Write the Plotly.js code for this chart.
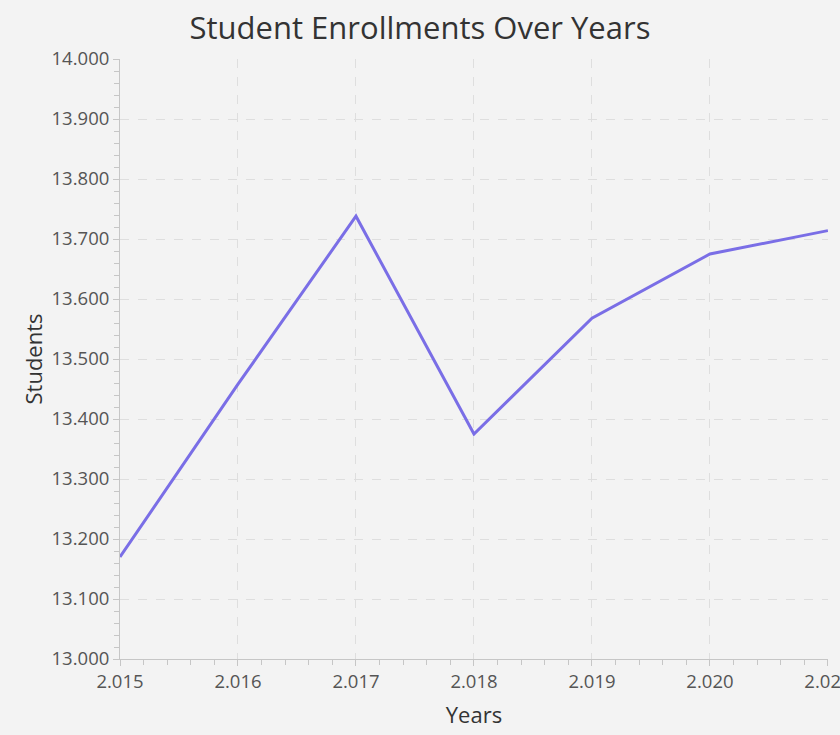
<!DOCTYPE html>
<html>
<head>
<meta charset="utf-8">
<script src="https://cdn.plot.ly/plotly-3.0.1.min.js"></script>
<style>html,body{margin:0;padding:0;background:#f3f3f3;}#chart{width:840px;height:735px;}</style>
</head>
<body>
<div id="chart"></div>
<script>
const years = [2015, 2016, 2017, 2018, 2019, 2020, 2021];
const students = [13170, 13458, 13738, 13375, 13568, 13675, 13714];

const fontFam = '"Open Sans", "Noto Sans", sans-serif';
const trace = {
  x: years,
  y: students,
  type: 'scatter',
  mode: 'lines',
  line: {color: '#7A6EE6', width: 3},
  hoverinfo: 'x+y'
};

const axisCommon = {
  showline: true,
  linecolor: '#C6C6C6',
  linewidth: 1,
  ticks: 'outside',
  ticklen: 6,
  tickcolor: '#C6C6C6',
  showgrid: true,
  gridcolor: '#DEDEDE',
  griddash: 'dash',
  gridwidth: 1,
  zeroline: false,
  ticklabeloverflow: 'allow',
  tickfont: {family: fontFam, size: 18.5, color: '#555555'},
  tickformat: ',d'
};

const layout = {
  width: 840,
  height: 735,
  paper_bgcolor: '#F3F3F3',
  plot_bgcolor: '#F3F3F3',
  separators: ',.',
  margin: {l: 120, r: 12, t: 59, b: 76},
  showlegend: false,
  title: {
    text: 'Student Enrollments Over Years',
    font: {family: fontFam, size: 31, color: '#333333'},
    x: 0.5, xref: 'container', xanchor: 'center',
    y: 0.962, yref: 'container', yanchor: 'middle'
  },
  xaxis: Object.assign({}, axisCommon, {
    range: [2015, 2021.0005],
    dtick: 1,
    tick0: 2015,
    minor: {dtick: 0.2, ticks: 'outside', ticklen: 5, tickcolor: '#C6C6C6', showgrid: false},
    title: {text: 'Years', font: {family: fontFam, size: 22, color: '#333333'}, standoff: 15}
  }),
  yaxis: Object.assign({}, axisCommon, {
    range: [13000, 14000],
    dtick: 100,
    tick0: 13000,
    minor: {dtick: 20, ticks: 'outside', ticklen: 5, tickcolor: '#C6C6C6', showgrid: false},
    title: {text: 'Students', font: {family: fontFam, size: 22, color: '#333333'}, standoff: 2}
  })
};

Plotly.newPlot('chart', [trace], layout, {displayModeBar: false, staticPlot: true});
</script>
</body>
</html>
